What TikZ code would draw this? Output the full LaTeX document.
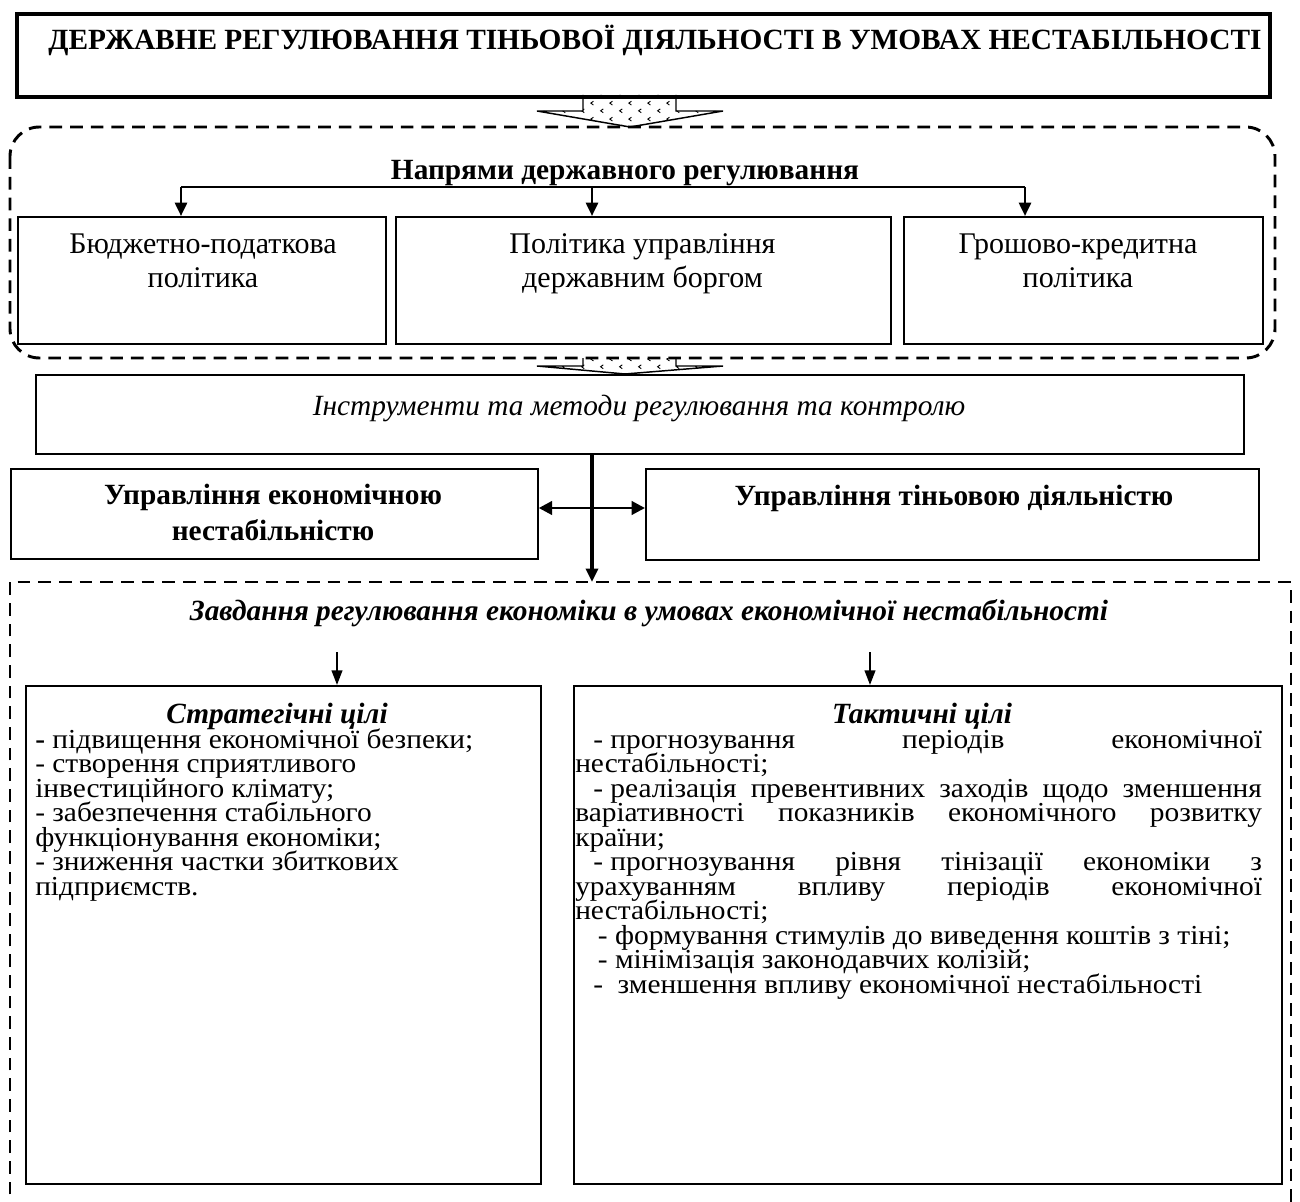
\documentclass[tikz,border=0pt]{standalone}
\usepackage{fontspec}
\setmainfont{Liberation Serif}[BoldFont={Liberation Serif Bold}, ItalicFont={Liberation Serif Italic}, BoldItalicFont={Liberation Serif Bold Italic}]
\newfontfamily\bodyfont{Liberation Serif}[FakeStretch=1.07, BoldFont={Liberation Serif Bold}]
\usetikzlibrary{arrows.meta,patterns,patterns.meta,shadows}
\tikzdeclarepattern{
  name=chev,
  type=uncolored,
  bounding box={(0pt,0pt) and (14pt,12pt)},
  tile size={(14pt,12pt)},
  code={
    \draw[line width=0.7pt] (4pt,1pt) -- (2pt,2.5pt) -- (4pt,4pt);
    \draw[line width=0.7pt] (11pt,7pt) -- (9pt,8.5pt) -- (11pt,10pt);
  }
}
\newcommand{\tightlines}{\lineskiplimit=-50pt\relax\lineskip=0pt\relax}
\newcommand{\dsh}{\mbox{- }}
\begin{document}
\begin{tikzpicture}[x=0.75pt,y=-0.75pt,
  box/.style={draw, line width=1.3pt, inner sep=0pt, anchor=north west},
  dashbox/.style={line width=2.2pt, dash pattern=on 9.5pt off 6pt},
  conn/.style={line width=2pt, -{Triangle[length=10pt,width=9pt]}},
  sconn/.style={line width=1.5pt, -{Triangle[length=11pt,width=8pt]}},
  dconn/.style={line width=2.2pt, {Triangle[length=10pt,width=10pt]}-{Triangle[length=10pt,width=10pt]}},
  blockarrow/.style={draw, line width=1.1pt, pattern=chev, pattern color=black},
  shad/.style={drop shadow={shadow xshift=1.1pt, shadow yshift=-1.1pt, fill=black!60, opacity=1}},
  lbl/.style={inner sep=0pt},
  btxt/.style={inner sep=0pt, font=\bfseries\fontsize{22}{27}\selectfont},
  ittxt/.style={inner sep=0pt, font=\itshape\fontsize{22}{26}\selectfont},
  bitxt/.style={inner sep=0pt, font=\bfseries\itshape\fontsize{22}{26}\selectfont}]
\useasboundingbox (0,0) rectangle (1300,1202);
\fill[white] (0,0) rectangle (1300,1202);

% title
\node[box, line width=3pt, minimum width=939.75pt, minimum height=62.25pt] (T) at (15,12) {};
\node[inner sep=0pt, anchor=base, font=\bfseries\fontsize{22}{26}\selectfont] (Tt) at (655,50)
  {ДЕРЖАВНЕ РЕГУЛЮВАННЯ ТІНЬОВОЇ ДІЯЛЬНОСТІ В УМОВАХ НЕСТАБІЛЬНОСТІ};

% block arrow 1
\path[blockarrow] (583,95) -- (583,111) -- (537,111) -- (630,127) -- (723,111) -- (676,111) -- (676,95);

% dashed rounded frame
\draw[dashbox, rounded corners=22pt] (10,127) rectangle (1275,358);
\node[btxt, anchor=base] (N) at (625,180) {Напрями державного регулювання};

\node[box, minimum width=276pt, minimum height=95.25pt] (A) at (17,216) {};
\node[box, minimum width=371.25pt, minimum height=95.25pt] (B) at (395,216) {};
\node[box, minimum width=269.25pt, minimum height=95.25pt] (C) at (903,216) {};
\node[lbl, anchor=base] (At) at (203,253)
  {\parbox[t]{270pt}{\centering\fontsize{22.5}{25.5}\selectfont\tightlines Бюджетно-податкова\\політика}};
\node[lbl, anchor=base] (Bt) at (642.5,253)
  {\parbox[t]{360pt}{\centering\fontsize{22.5}{25.5}\selectfont\tightlines Політика управління\\державним боргом}};
\node[lbl, anchor=base] (Ct) at (1078,253)
  {\parbox[t]{260pt}{\centering\fontsize{22.5}{25.5}\selectfont\tightlines Грошово-кредитна\\політика}};

\coordinate (hl) at (181,187);
\coordinate (hm) at (592,187);
\coordinate (hr) at (1025,187);
\draw[line width=2pt] (hl) -- (hr);
\draw[conn] (hl) -- (hl |- A.north);
\draw[conn] (hm) -- (hm |- B.north);
\draw[conn] (hr) -- (hr |- C.north);

% block arrow 2
\path[blockarrow] (583,358) -- (583,366) -- (537,366) -- (625,374) -- (723,366) -- (676,366) -- (676,358);

% instruments
\node[box, minimum width=906pt, minimum height=59.25pt] (I) at (35,374) {};
\node[ittxt, anchor=base] (It) at (639,415) {Інструменти та методи регулювання та контролю};

\node[box, minimum width=395.25pt, minimum height=67.5pt] (UE) at (10,468) {};
\node[lbl, anchor=base] (UEt) at (273,504)
  {\parbox[t]{390pt}{\centering\bfseries\fontsize{22}{27}\selectfont\tightlines Управління економічною\\нестабільністю}};
\node[box, minimum width=459.75pt, minimum height=68.25pt] (UT) at (645,468) {};
\node[btxt, anchor=base] (UTt) at (954,505) {Управління тіньовою діяльністю};

\coordinate (vt) at (592,582);
\coordinate (ym) at (592,508);
\draw[conn, line width=2.4pt] (I.south -| vt) -- (vt);
\draw[dconn] (UE.east |- ym) -- (UT.west |- ym);

% bottom dashed frame
\draw[dashbox] (10,1215) -- (10,582) -- (1291,582) -- (1291,1215);
\node[bitxt, anchor=base] (Z) at (649,620) {Завдання регулювання економіки в умовах економічної нестабільності};

\node[box, shad, fill=white, minimum width=386.25pt, minimum height=373.5pt] (S) at (25,685) {};
\node[box, shad, fill=white, minimum width=531pt, minimum height=373.5pt] (K) at (573,685) {};

\coordinate (sa) at (337,652);
\coordinate (ka) at (870,652);
\draw[sconn] (sa) -- (sa |- S.north);
\draw[sconn] (ka) -- (ka |- K.north);

\node[bitxt, anchor=base] (St) at (277,723) {Стратегічні цілі};
\node[bitxt, anchor=base] (Kt) at (922,723) {Тактичні цілі};

\node[lbl, anchor=base west] (Sl) at (35,748)
 {\parbox[t]{375pt}{\raggedright\bodyfont\fontsize{20.6}{18.4}\selectfont\tightlines
  \textbf{-} підвищення економічної безпеки;\\
  - створення сприятливого\\
  інвестиційного клімату;\\
  - забезпечення стабільного\\
  функціонування економіки;\\
  - зниження частки збиткових\\
  підприємств.}};

\node[lbl, anchor=base west] (Kl) at (575,748)
 {\parbox[t]{515pt}{\raggedright\bodyfont\fontsize{20.6}{18.4}\selectfont\tightlines
  \makebox[515pt][s]{\kern13.5pt\dsh прогнозування періодів економічної}\\
  нестабільності;\\
  \makebox[515pt][s]{\kern13.5pt\dsh реалізація превентивних заходів щодо зменшення}\\
  \makebox[515pt][s]{варіативності показників економічного розвитку}\\
  країни;\\
  \makebox[515pt][s]{\kern13.5pt\dsh прогнозування рівня тінізації економіки з}\\
  \makebox[515pt][s]{урахуванням впливу періодів економічної}\\
  нестабільності;\\
  \hspace*{17pt}- формування стимулів до виведення коштів з тіні;\\
  \hspace*{17pt}- мінімізація законодавчих колізій;\\
  \hspace*{13.5pt}-\ \ зменшення впливу економічної нестабільності}};
\end{tikzpicture}
\end{document}
